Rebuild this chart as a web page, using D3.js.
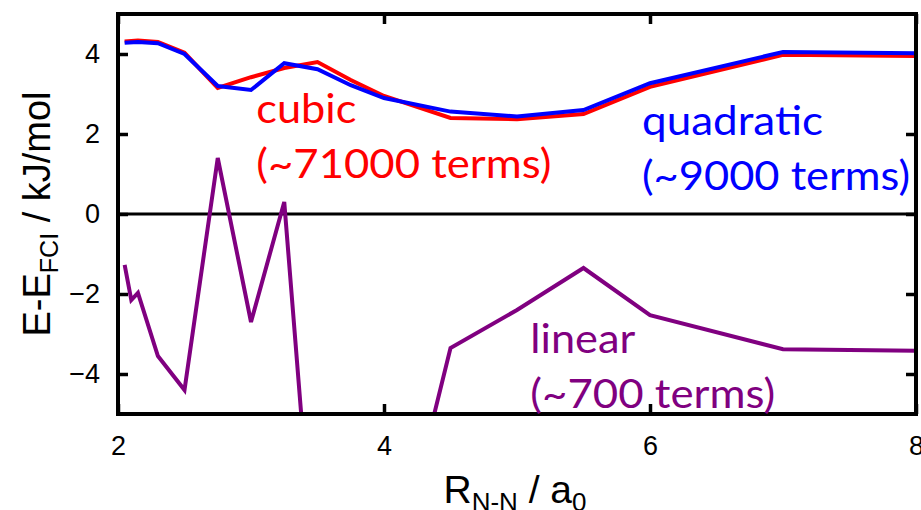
<!DOCTYPE html>
<html>
<head>
<meta charset="utf-8">
<script src="https://cdn.jsdelivr.net/npm/d3@7"></script>
<style>
  body { margin: 0; background: #fff; }
  svg text { font-family: "Liberation Sans", Arial, sans-serif; }
  svg text.lbl { font-family: Lato, "Open Sans", sans-serif; }
</style>
</head>
<body>
<div id="chart"></div>
<script>
// R(N-N) / a0 for each series
let cubicR      = [2.05, 2.15, 2.3, 2.5, 2.75, 3.0, 3.25, 3.5, 3.75, 4.0, 4.5, 5.0, 5.5, 6.0, 7.0, 8.0];
let cubicE      = [4.31, 4.34, 4.30, 4.03, 3.15, 3.42, 3.65, 3.80, 3.35, 2.95, 2.40, 2.37, 2.50, 3.18, 3.98, 3.95];
let quadR       = [2.05, 2.15, 2.3, 2.5, 2.75, 3.0, 3.25, 3.5, 3.75, 4.0, 4.5, 5.0, 5.5, 6.0, 7.0, 8.0];
let quadE       = [4.28, 4.30, 4.27, 4.00, 3.20, 3.10, 3.77, 3.62, 3.22, 2.90, 2.56, 2.44, 2.60, 3.27, 4.05, 4.02];
let linR        = [2.05, 2.1, 2.15, 2.3, 2.5, 2.75, 3.0, 3.25, 3.5, 4.0, 4.5, 5.0, 5.5, 6.0, 7.0, 8.0];
let linE        = [-1.27, -2.15, -1.97, -3.55, -4.40, 1.40, -2.70, 0.30, -10.1, -10.1, -3.35, -2.40, -1.35, -2.53, -3.38, -3.42];

let xTicks      = [2, 4, 6, 8];
let yTicks      = [-4, -2, 0, 2, 4];

let canvasWidth  = 921;
let canvasHeight = 510;
let margin       = { top: 14, right: 5, bottom: 96, left: 118 };
let width        = canvasWidth - margin.left - margin.right;
let height       = canvasHeight - margin.top - margin.bottom;

let x = d3.scaleLinear().domain([2, 8]).range([0, width]);
let y = d3.scaleLinear().domain([-5, 5]).range([height, 0]);

let root = d3.select("#chart").append("svg")
	.attr("width", canvasWidth)
	.attr("height", canvasHeight);

let svg = root.append("g")
	.attr("transform", "translate(" + margin.left + "," + margin.top + ")");

svg.append("defs").append("clipPath").attr("id", "plot-clip")
	.append("rect").attr("width", width).attr("height", height);

// axes with inward ticks on all four sides
function styleAxis(g) {
	g.select(".domain").remove();
	g.selectAll(".tick line").attr("stroke", "#000").attr("stroke-width", 3.5);
	g.selectAll(".tick text").attr("fill", "#000").style("font-size", "27px");
}

svg.append("g")
	.attr("transform", "translate(0," + height + ")")
	.call(d3.axisBottom(x).tickValues(xTicks).tickSize(-10).tickPadding(22).tickFormat(d3.format("d")))
	.call(styleAxis);

svg.append("g")
	.call(d3.axisTop(x).tickValues(xTicks).tickSize(-10).tickFormat(""))
	.call(styleAxis);

svg.append("g")
	.call(d3.axisLeft(y).tickValues(yTicks).tickSize(-10).tickPadding(18).tickFormat(d3.format("d")))
	.call(styleAxis);

svg.append("g")
	.attr("transform", "translate(" + width + ",0)")
	.call(d3.axisRight(y).tickValues(yTicks).tickSize(-10).tickFormat(""))
	.call(styleAxis);

// zero line
svg.append("line")
	.attr("x1", 0).attr("x2", width)
	.attr("y1", y(0)).attr("y2", y(0))
	.attr("stroke", "#000").attr("stroke-width", 3);

let line = d3.line().x((d) => x(d[0])).y((d) => y(d[1]));

let series = [
	{ r: linR,   e: linE,   color: "#800080", w: 4 },
	{ r: cubicR, e: cubicE, color: "#ff0000", w: 4 },
	{ r: quadR,  e: quadE,  color: "#0000ff", w: 4 }
];

svg.append("g").attr("clip-path", "url(#plot-clip)")
	.selectAll("path")
	.data(series)
	.enter().append("path")
		.attr("d", (s) => line(d3.zip(s.r, s.e)))
		.attr("fill", "none")
		.attr("stroke", (s) => s.color)
		.attr("stroke-width", (s) => s.w)
		.attr("stroke-linejoin", "miter");

// frame
svg.append("rect")
	.attr("width", width).attr("height", height)
	.attr("fill", "none").attr("stroke", "#000").attr("stroke-width", 4);

// series labels (anchor in data units, line widths in px)
let labels = [
	{ lines: ["cubic", "(~71000 terms)"],    len: [100, 295], color: "#ff0000", r: 3.04, e: 2.28 },
	{ lines: ["quadratic", "(~9000 terms)"], len: [181, 268], color: "#0000ff", r: 5.94, e: 1.97 },
	{ lines: ["linear", "(~700 terms)"],     len: [105, 245], color: "#800080", r: 5.10, e: -3.48 }
];

labels.forEach((o) => {
	let t = svg.append("text")
		.attr("class", "lbl")
		.attr("x", x(o.r))
		.attr("y", y(o.e))
		.attr("fill", o.color)
		.style("font-size", "41px");
	o.lines.forEach((s, i) => {
		t.append("tspan")
			.attr("x", x(o.r))
			.attr("dy", i === 0 ? 0 : 55)
			.attr("textLength", o.len[i])
			.attr("lengthAdjust", "spacingAndGlyphs")
			.text(s);
	});
});

// axis titles
let yTitle = root.append("text")
	.attr("transform", "translate(50," + (margin.top + height / 2) + ") rotate(-90)")
	.attr("text-anchor", "middle")
	.style("font-size", "38px");
yTitle.append("tspan").text("E-E");
yTitle.append("tspan").attr("dy", 8).style("font-size", "25px").text("FCI");
yTitle.append("tspan").attr("dy", -8).text(" / kJ/mol");

let xTitle = root.append("text")
	.attr("x", 515)
	.attr("y", 503)
	.attr("text-anchor", "middle")
	.style("font-size", "39px");
xTitle.append("tspan").text("R");
xTitle.append("tspan").attr("dy", 8).style("font-size", "26px").text("N-N");
xTitle.append("tspan").attr("dy", -8).text(" / a");
xTitle.append("tspan").attr("dy", 8).style("font-size", "26px").text("0");
</script>
</body>
</html>
